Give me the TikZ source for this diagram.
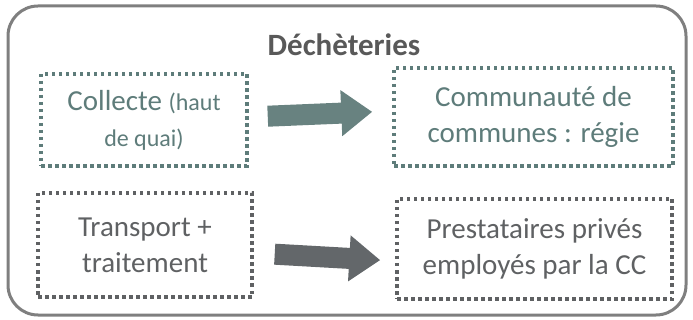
\documentclass[tikz,border=0pt]{standalone}
\usepackage{fontspec}
\setmainfont{Carlito}
\usetikzlibrary{arrows.meta}
\definecolor{frame}{HTML}{7F7F7F}
\definecolor{teal1}{HTML}{5E7C7A}
\definecolor{tealarrow}{HTML}{688280}
\definecolor{gray1}{HTML}{5F6163}
\definecolor{grayarrow}{HTML}{63676A}
\definecolor{titlecol}{HTML}{595959}
\tikzset{
  dotbox/.style={draw, line width=3.5pt, dash pattern=on 3.5pt off 3.5pt, inner sep=0pt,
    align=center, font=\fontsize{29}{36}\selectfont},
  bigarrow/.style={line width=21pt, -{Triangle[length=31pt,width=44pt]}},
}
\begin{document}
\begin{tikzpicture}[x=1pt,y=-1pt]
\useasboundingbox (0,0) rectangle (693,320);
\node[draw=frame, line width=3pt, rounded corners=30pt, minimum width=678pt, minimum height=309pt, inner sep=0pt] (frame) at (347,160.5) {};
\node[text=titlecol, font=\fontsize{31}{36}\selectfont\bfseries] (title) at (344,45) {Déchèteries};
\node[dotbox, draw=teal1, text=teal1, minimum width=206pt, minimum height=92pt] (coll) at (144,120)
  {Collecte {\fontsize{24}{36}\selectfont(haut}\\{\fontsize{24}{36}\selectfont de quai)}};
\node[dotbox, draw=teal1, text=teal1, minimum width=279pt, minimum height=98pt] (cc) at (533.5,117)
  {Communauté de\\communes : régie};
\node[dotbox, draw=gray1, text=gray1, minimum width=214pt, minimum height=104pt] (tr) at (145,245)
  {Transport +\\traitement};
\node[dotbox, draw=gray1, text=gray1, minimum width=275pt, minimum height=100pt] (pr) at (534.5,249)
  {Prestataires privés\\employés par la CC};
\draw[bigarrow, draw=tealarrow, color=tealarrow, shorten <=19pt, shorten >=20pt] ([yshift=3pt]coll.east) -- ([yshift=6pt]cc.west);
\draw[bigarrow, draw=grayarrow, color=grayarrow, shorten <=21pt, shorten >=15pt] ([yshift=-8pt]tr.east) -- ([yshift=-12pt]pr.west);
\end{tikzpicture}
\end{document}
